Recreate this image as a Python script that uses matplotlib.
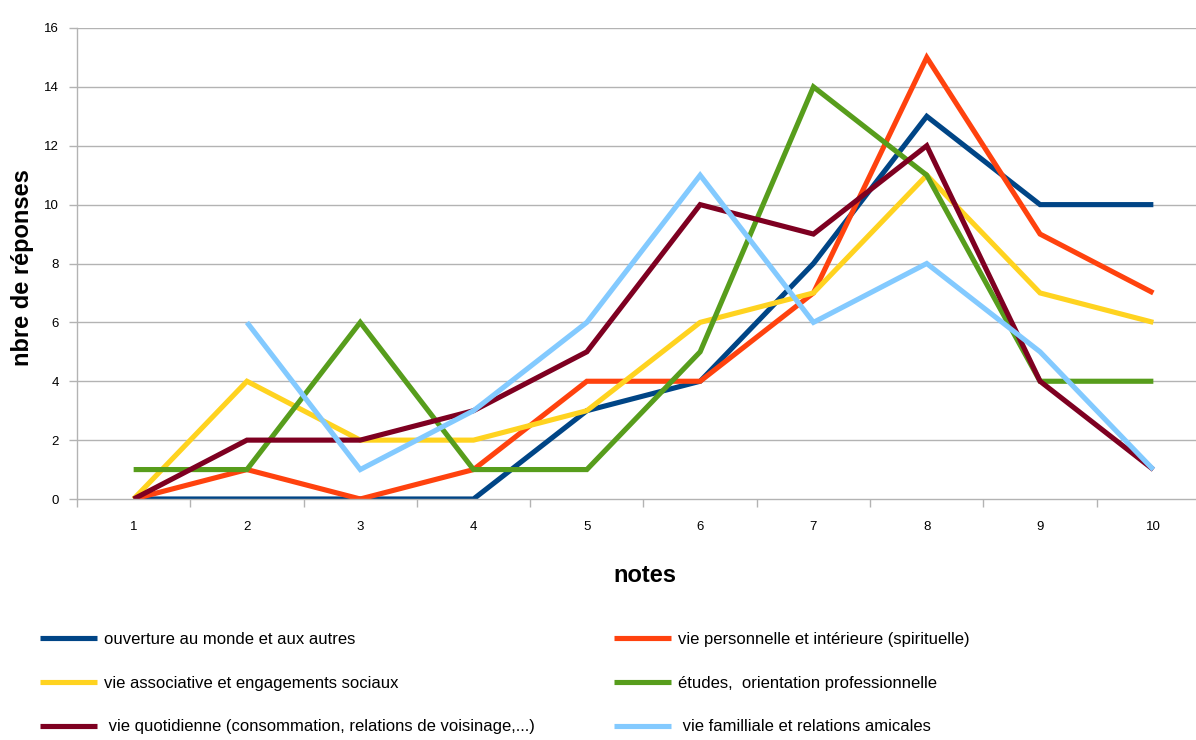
import numpy as np
import matplotlib
matplotlib.use("Agg")
import matplotlib.pyplot as plt

plt.rcParams['font.family'] = ['Liberation Sans', 'DejaVu Sans']

notes = [1, 2, 3, 4, 5, 6, 7, 8, 9, 10]

ouverture = [0, 0, 0, 0, 3, 4, 8, 13, 10, 10]
personnelle = [0, 1, 0, 1, 4, 4, 7, 15, 9, 7]
associative = [0, 4, 2, 2, 3, 6, 7, 11, 7, 6]
etudes = [1, 1, 6, 1, 1, 5, 14, 11, 4, 4]
quotidienne = [0, 2, 2, 3, 5, 10, 9, 12, 4, 1]
familiale = [np.nan, 6, 1, 3, 6, 11, 6, 8, 5, 1]

labels = [
    "ouverture au monde et aux autres",
    "vie personnelle et intérieure (spirituelle)",
    "vie associative et engagements sociaux",
    "études,  orientation professionnelle",
    " vie quotidienne (consommation, relations de voisinage,...)",
    " vie familliale et relations amicales",
]
colors = ["#004586", "#ff420e", "#ffd320", "#579d1c", "#7e0021", "#83caff"]
series = [ouverture, personnelle, associative, etudes, quotidienne, familiale]

fig = plt.figure(figsize=(11.96, 7.4), dpi=100)
ax = fig.add_axes([77 / 1196, 241 / 740, 1133 / 1196, 471 / 740])

grid_color = "#b3b3b3"
for y in range(2, 17, 2):
    ax.axhline(y, color=grid_color, lw=1.0, zorder=0)

handles = []
for vals, col, lab in zip(series, colors, labels):
    ln, = ax.plot(notes, vals, color=col, lw=3.7, solid_joinstyle="miter",
                  solid_capstyle="butt", label=lab, zorder=2)
    handles.append(ln)

ax.set_xlim(0.5, 10.5)
ax.set_ylim(0, 16)
ax.set_yticks(range(0, 17, 2))
ax.set_xticks(notes)
ax.set_xticks(np.arange(0.5, 10.6, 1.0), minor=True)
ax.tick_params(axis="x", which="major", length=0, pad=16, labelsize=9.5)
ax.tick_params(axis="x", which="minor", length=6, color=grid_color, width=1)
ax.tick_params(axis="y", which="major", length=6, color=grid_color, width=1,
               pad=7, labelsize=9.5)

for s in ["top", "right"]:
    ax.spines[s].set_visible(False)
for s in ["left", "bottom"]:
    ax.spines[s].set_color(grid_color)
    ax.spines[s].set_linewidth(1.0)

fig.text(22 / 1196, 1 - 268 / 740, "nbre de réponses", rotation=90,
         fontsize=17, fontweight="bold", ha="center", va="center")
fig.text(645 / 1196, 1 - 575 / 740, "notes", fontsize=17, fontweight="bold",
         ha="center", va="center")

leg_kw = dict(frameon=False, fontsize=12, handlelength=3.4, handletextpad=0.45,
              labelspacing=1.72, borderaxespad=0, borderpad=0)
left_h = [handles[0], handles[2], handles[4]]
right_h = [handles[1], handles[3], handles[5]]
fig.legend(left_h, [h.get_label() for h in left_h], loc="upper left",
           bbox_to_anchor=(40 / 1196, 1 - 632 / 740), **leg_kw)
fig.legend(right_h, [h.get_label() for h in right_h], loc="upper left",
           bbox_to_anchor=(614 / 1196, 1 - 632 / 740), **leg_kw)

fig.savefig("out.png", dpi=100)
